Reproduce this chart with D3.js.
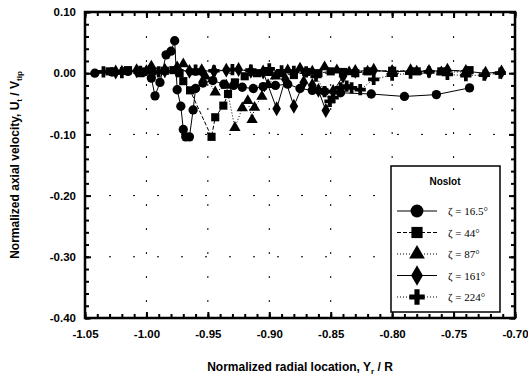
<!DOCTYPE html>
<html>
<head>
<meta charset="utf-8">
<script src="https://cdn.jsdelivr.net/npm/d3@7"></script>
<style>
	body { margin: 0; background: #fff; }
	text { font-family: Arial, "Liberation Sans", sans-serif; }
</style>
</head>
<body>
<div id="chart"></div>
<script>
// 数据：每条曲线的 x / y
const circleX = [-1.042, -1.028, -1.015, -1.002, -0.996, -0.993, -0.989, -0.984, -0.980, -0.977, -0.975, -0.972, -0.970, -0.968, -0.965, -0.962, -0.960, -0.954, -0.946, -0.937, -0.929, -0.922, -0.913, -0.905, -0.895, -0.885, -0.875, -0.865, -0.855, -0.842, -0.817, -0.790, -0.764, -0.737];
const circleY = [0.000, 0.002, 0.003, 0.002, -0.008, -0.037, -0.015, 0.030, 0.036, 0.053, -0.027, -0.054, -0.092, -0.104, -0.104, -0.060, -0.025, -0.016, -0.012, -0.018, -0.020, -0.023, -0.025, -0.022, -0.020, -0.018, -0.025, -0.028, -0.030, -0.032, -0.034, -0.038, -0.035, -0.024];

const squareX = [-1.030, -1.015, -1.005, -0.995, -0.985, -0.978, -0.973, -0.970, -0.9645, -0.947, -0.944, -0.9374, -0.9336, -0.928, -0.920, -0.910, -0.900, -0.890, -0.880, -0.870, -0.860, -0.850, -0.840, -0.830, -0.820, -0.800, -0.780, -0.760, -0.737];
const squareY = [0.003, 0.005, 0.000, 0.003, 0.004, 0.005, 0.000, -0.013, -0.028, -0.104, -0.072, -0.053, -0.034, -0.015, -0.005, 0.000, 0.002, 0.000, -0.003, 0.002, 0.000, 0.003, 0.002, 0.000, 0.003, 0.004, 0.003, 0.003, 0.005];

const triangleX = [-1.020, -1.000, -0.985, -0.975, -0.970, -0.960, -0.952, -0.944, -0.935, -0.928, -0.922, -0.9175, -0.914, -0.912, -0.906, -0.901, -0.895, -0.885, -0.875, -0.865, -0.855, -0.845, -0.835, -0.820, -0.800, -0.780, -0.760, -0.740];
const triangleY = [0.003, 0.004, 0.006, 0.010, 0.015, 0.002, -0.005, -0.031, -0.020, -0.089, -0.057, -0.045, -0.076, -0.056, -0.038, -0.019, -0.005, 0.005, 0.008, 0.003, 0.010, 0.005, 0.002, 0.003, 0.004, 0.003, 0.002, 0.002];

const diamondX = [-1.025, -1.008, -0.996, -0.985, -0.975, -0.965, -0.955, -0.945, -0.935, -0.925, -0.915, -0.905, -0.894, -0.887, -0.880, -0.872, -0.865, -0.860, -0.854, -0.848, -0.840, -0.830, -0.815, -0.800, -0.785, -0.770, -0.755, -0.740, -0.724, -0.711];
const diamondY = [0.002, 0.004, 0.010, 0.004, 0.005, 0.003, 0.004, 0.003, 0.005, 0.006, 0.003, 0.002, -0.058, -0.010, -0.054, -0.015, -0.020, -0.028, -0.061, -0.030, -0.005, 0.003, 0.005, 0.002, 0.004, 0.003, 0.005, 0.003, 0.000, 0.002];

const plusX = [-1.035, -1.020, -1.005, -0.990, -0.975, -0.960, -0.945, -0.930, -0.915, -0.900, -0.890, -0.880, -0.870, -0.862, -0.855, -0.8506, -0.848, -0.842, -0.837, -0.833, -0.826, -0.815, -0.800, -0.785, -0.770, -0.755, -0.740, -0.725, -0.712];
const plusY = [0.002, 0.001, 0.003, 0.002, 0.004, 0.005, 0.004, 0.006, 0.005, 0.007, 0.004, 0.003, 0.002, -0.005, -0.030, -0.046, -0.040, -0.024, -0.021, -0.024, -0.027, -0.010, -0.003, 0.000, 0.002, -0.002, -0.004, -0.003, 0.000];

const legendLabels = ['ζ = 16.5°', 'ζ = 44°', 'ζ = 87°', 'ζ = 161°', 'ζ = 224°'];
const xTicks = [-1.05, -1.00, -0.95, -0.90, -0.85, -0.80, -0.75, -0.70];
const yTicks = [0.10, 0.00, -0.10, -0.20, -0.30, -0.40];

const width = 528;
const height = 384;
const margin = ({ top: 12, right: 13, bottom: 66, left: 85 })

const series = [
	{ xs: circleX, ys: circleY, shape: d3.symbolCircle, size: 68, dash: null },
	{ xs: squareX, ys: squareY, shape: d3.symbolSquare, size: 66, dash: '4,2' },
	{ xs: triangleX, ys: triangleY, shape: d3.symbolTriangle, size: 56, dash: '1,2' },
	{ xs: diamondX, ys: diamondY, shape: d3.symbolDiamond, size: 64, dash: null },
	{ xs: plusX, ys: plusY, shape: d3.symbolCross, size: 70, dash: '1,2' }
];

const svg = d3.select('#chart')
	.append('svg')
	.attr('width', width)
	.attr('height', height);

x = d3.scaleLinear()
	.domain([-1.05, -0.70])
	.range([margin.left, width - margin.right])

y = d3.scaleLinear()
	.domain([-0.40, 0.10])
	.range([height - margin.bottom, margin.top])

const xMinor = d3.range(-105, -69, 1).map(d => d / 100)
const yMinor = d3.range(-40, 11, 2).map(d => d / 100)

// 网格（稀疏点线）
svg.append('g')
	.selectAll('line')
	.data(xTicks.slice(1, -1))
	.join('line')
	.attr('x1', d => x(d)).attr('x2', d => x(d))
	.attr('y1', y(0.10)).attr('y2', y(-0.40))
	.attr('stroke', '#000').attr('stroke-width', 1)
	.attr('stroke-dasharray', '2,22');

svg.append('g')
	.selectAll('line')
	.data(yTicks.slice(1, -1))
	.join('line')
	.attr('y1', d => y(d)).attr('y2', d => y(d))
	.attr('x1', x(-1.05)).attr('x2', x(-0.70))
	.attr('stroke', '#000').attr('stroke-width', 1)
	.attr('stroke-dasharray', '2,22');

// 坐标轴（刻度朝内）
function styleAxis(g) {
	g.select('.domain').remove();
	g.selectAll('.tick line').attr('stroke-width', 2);
	g.selectAll('text')
		.attr('font-size', 11.5)
		.attr('font-weight', 'bold')
		.attr('fill', '#000');
}

const fmt = d => d.toFixed(2);

svg.append('g')
	.attr('transform', `translate(0,${y(-0.40)})`)
	.call(d3.axisBottom(x).tickValues(xTicks).tickFormat(fmt).tickSize(-6).tickPadding(12))
	.call(styleAxis);

svg.append('g')
	.attr('transform', `translate(0,${y(-0.40)})`)
	.call(d3.axisBottom(x).tickValues(xMinor).tickFormat('').tickSize(-4))
	.call(styleAxis);

svg.append('g')
	.attr('transform', `translate(0,${y(0.10)})`)
	.call(d3.axisTop(x).tickValues(xMinor).tickFormat('').tickSize(-4))
	.call(styleAxis);

svg.append('g')
	.attr('transform', `translate(0,${y(0.10)})`)
	.call(d3.axisTop(x).tickValues(xTicks).tickFormat('').tickSize(-6))
	.call(styleAxis);

svg.append('g')
	.attr('transform', `translate(${x(-1.05)},0)`)
	.call(d3.axisLeft(y).tickValues(yTicks).tickFormat(fmt).tickSize(-6).tickPadding(9))
	.call(styleAxis);

svg.append('g')
	.attr('transform', `translate(${x(-1.05)},0)`)
	.call(d3.axisLeft(y).tickValues(yMinor).tickFormat('').tickSize(-4))
	.call(styleAxis);

svg.append('g')
	.attr('transform', `translate(${x(-0.70)},0)`)
	.call(d3.axisRight(y).tickValues(yMinor).tickFormat('').tickSize(-4))
	.call(styleAxis);

svg.append('g')
	.attr('transform', `translate(${x(-0.70)},0)`)
	.call(d3.axisRight(y).tickValues(yTicks).tickFormat('').tickSize(-6))
	.call(styleAxis);

// 边框
svg.append('rect')
	.attr('x', x(-1.05)).attr('y', y(0.10))
	.attr('width', x(-0.70) - x(-1.05))
	.attr('height', y(-0.40) - y(0.10))
	.attr('fill', 'none').attr('stroke', '#000').attr('stroke-width', 2.5);

// 曲线与标记
const line = d3.line().x(d => x(d[0])).y(d => y(d[1]));

series.forEach(s => {
	const pts = s.xs.map((v, i) => [v, s.ys[i]]);
	svg.append('path')
		.datum(pts)
		.attr('d', line)
		.attr('fill', 'none')
		.attr('stroke', '#000')
		.attr('stroke-width', 1)
		.attr('stroke-dasharray', s.dash);
	svg.append('g')
		.selectAll('path')
		.data(pts)
		.join('path')
		.attr('transform', d => `translate(${x(d[0])},${y(d[1])})`)
		.attr('d', d3.symbol(s.shape, s.size))
		.attr('fill', '#000');
});

// 图例
const lg = svg.append('g').attr('transform', 'translate(391,166)');
lg.append('rect')
	.attr('width', 109).attr('height', 146)
	.attr('fill', '#fff').attr('stroke', '#000').attr('stroke-width', 1.5);
lg.append('text')
	.attr('x', 54).attr('y', 19)
	.attr('text-anchor', 'middle')
	.attr('font-size', 10).attr('font-weight', 'bold')
	.text('Noslot');

series.forEach((s, i) => {
	const ly = 45 + i * 21.5;
	lg.append('line')
		.attr('x1', 6).attr('x2', 46)
		.attr('y1', ly).attr('y2', ly)
		.attr('stroke', '#000').attr('stroke-width', 1)
		.attr('stroke-dasharray', s.dash);
	lg.append('path')
		.attr('transform', `translate(26,${ly})`)
		.attr('d', d3.symbol(s.shape, s.size * 1.9))
		.attr('fill', '#000');
	lg.append('text')
		.attr('x', 57).attr('y', ly + 4)
		.attr('font-size', 11)
		.style('font-family', '"Liberation Serif", "DejaVu Serif", serif')
		.text(legendLabels[i]);
});

// 轴标题
const xt = svg.append('text')
	.attr('x', (x(-1.05) + x(-0.70)) / 2).attr('y', 371)
	.attr('text-anchor', 'middle')
	.attr('font-size', 12).attr('font-weight', 'bold');
xt.append('tspan').text('Normalized radial location, Y');
xt.append('tspan').attr('font-size', 8).attr('dy', 3).text('r');
xt.append('tspan').attr('dy', -3).text(' / R');

const yt = svg.append('text')
	.attr('transform', `translate(19,${(y(0.10) + y(-0.40)) / 2}) rotate(-90)`)
	.attr('text-anchor', 'middle')
	.attr('font-size', 12).attr('font-weight', 'bold');
yt.append('tspan').text('Normalized axial velocity, U');
yt.append('tspan').attr('font-size', 8).attr('dy', 3).text('t');
yt.append('tspan').attr('dy', -3).text(' / V');
yt.append('tspan').attr('font-size', 8).attr('dy', 3).text('tip');
</script>
</body>
</html>
